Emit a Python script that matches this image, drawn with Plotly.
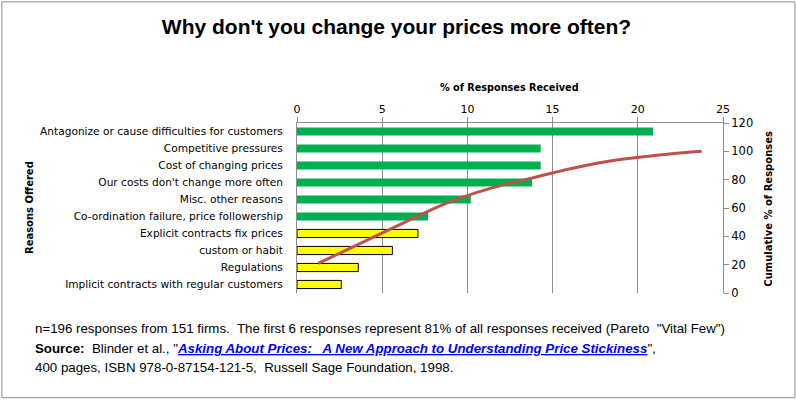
import plotly.graph_objects as go

reasons = [
    "Antagonize or cause difficulties for customers",
    "Competitive pressures",
    "Cost of changing prices",
    "Our costs don't change more often",
    "Misc. other reasons",
    "Co-ordination failure, price followership",
    "Explicit contracts fix prices",
    "custom or habit",
    "Regulations",
    "Implicit contracts with regular customers",
]
pct_responses = [20.9, 14.3, 14.3, 13.8, 10.2, 7.7, 7.1, 5.6, 3.6, 2.6]
cumulative_pct = [20.9, 35.2, 49.5, 63.3, 73.5, 81.1, 88.3, 93.9, 97.4, 100.0]
bar_colors = ["#00B050"] * 6 + ["#FFFF00"] * 4
bar_line_colors = ["#00B050"] * 6 + ["#000000"] * 4
bar_line_widths = [0] * 6 + [1] * 4
x_ticks = [0, 5, 10, 15, 20, 25]
y2_ticks = [0, 20, 40, 60, 80, 100, 120]

W, H = 797, 400
L, R, T, B = 297, 723.5, 123, 293.5
pw, ph = R - L, B - T

def xp(px):
    return (px - L) / pw

def yp(py):
    return (B - py) / ph

FONT = "DejaVu Sans"
grey = "#8C8C8C"

fig = go.Figure()
fig.add_trace(go.Bar(
    y=reasons, x=pct_responses, orientation="h",
    marker=dict(color=bar_colors, line=dict(color=bar_line_colors, width=bar_line_widths)),
    width=0.48, xaxis="x", yaxis="y", showlegend=False,
))
fig.add_trace(go.Scatter(
    x=reasons, y=cumulative_pct, mode="lines",
    line=dict(color="#C0504D", width=3, shape="spline", smoothing=1.0),
    xaxis="x2", yaxis="y2", showlegend=False,
))

fig.update_layout(
    width=W, height=H,
    margin=dict(l=L, r=W - R, t=T, b=H - B, pad=0),
    paper_bgcolor="white", plot_bgcolor="white",
    font=dict(family=FONT, size=10, color="black"),
    title=dict(text="<b>Why don't you change your prices more often?</b>",
               x=0.4975, xref="container", xanchor="center",
               y=1 - 27 / H, yref="container", yanchor="middle",
               font=dict(family="Liberation Sans", size=21, color="black")),
    xaxis=dict(side="top", range=[0, 25], tickvals=x_ticks, showgrid=True,
               gridcolor=grey, gridwidth=1, showline=True, linecolor=grey, linewidth=1,
               ticks="outside", ticklen=5, tickcolor=grey, zeroline=False,
               tickfont=dict(family=FONT, size=11), anchor="y"),
    yaxis=dict(range=[9.5, -0.5], showline=True, linecolor=grey, linewidth=1,
               ticks="", showgrid=False, zeroline=False, ticklabelstandoff=11,
               tickfont=dict(family=FONT, size=10.6)),
    xaxis2=dict(overlaying="x", anchor="y2", range=[-0.5, 9.5], visible=False,
                type="category", categoryorder="array", categoryarray=reasons),
    yaxis2=dict(overlaying="y", side="right", range=[0, 120], tickvals=y2_ticks,
                showgrid=False, zeroline=False, showline=True, linecolor=grey,
                linewidth=1, ticks="outside", ticklen=5, tickcolor=grey,
                tickfont=dict(family=FONT, size=11.5), anchor="x2"),
    bargap=0.5,
)

annotations = [
    dict(text="<b>% of Responses Received</b>", x=xp(510), y=yp(87),
         font=dict(family=FONT, size=9.7)),
    dict(text="<b>Reasons Offered</b>", x=xp(29), y=yp(208), textangle=-90,
         font=dict(family=FONT, size=10)),
    dict(text="<b>Cumulative % of Responses</b>", x=xp(769), y=yp(208.5), textangle=-90,
         font=dict(family=FONT, size=10)),
    dict(text='n=196 responses from 151 firms.  The first 6 responses represent 81% of all responses received (Pareto  "Vital Few")',
         x=xp(33), y=yp(329), xanchor="left", font=dict(family="Liberation Sans", size=13.3)),
    dict(text='<b>Source:</b>  Blinder et al., "<a href="https://www.russellsage.org/" style="color:#0000FF;text-decoration:underline"><b><i>Asking About Prices:   A New Approach to Understanding Price Stickiness</i></b></a>",',
         x=xp(33), y=yp(349), xanchor="left", font=dict(family="Liberation Sans", size=13.3)),
    dict(text="400 pages, ISBN 978-0-87154-121-5,  Russell Sage Foundation, 1998.",
         x=xp(33), y=yp(368), xanchor="left", font=dict(family="Liberation Sans", size=13.3)),
]
for a in annotations:
    a.setdefault("xanchor", "center")
    a.update(xref="paper", yref="paper", yanchor="middle", showarrow=False)
fig.update_layout(annotations=annotations)

fig.add_shape(type="rect", xref="paper", yref="paper",
              x0=xp(1.5), x1=xp(795.5), y0=yp(398.5), y1=yp(1.5),
              line=dict(color=grey, width=1), fillcolor="rgba(0,0,0,0)", layer="below")

fig.write_html("out.html", config={"displayModeBar": False},
               post_script="document.body.style.margin='0px';")
